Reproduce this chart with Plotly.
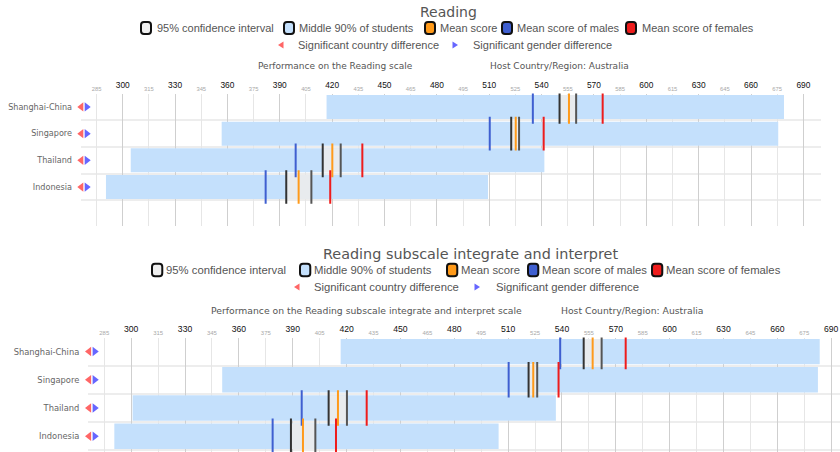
import plotly.graph_objects as go

W, H = 840, 452


def px(x):
    return x / W


def py(y):
    return 1 - y / H


countries = ["Shanghai-China", "Singapore", "Thailand", "Indonesia"]

# Reading
read_p5 = [416.8, 356.7, 304.6, 290.4]
read_p95 = [678.9, 675.6, 541.6, 509.3]
read_ci_lo = [550.3, 522.6, 414.6, 393.7]
read_ci_hi = [559.8, 527.1, 424.9, 408.1]
read_mean = [555.7, 525.2, 420.1, 400.8]
read_male = [535.0, 510.3, 399.1, 381.9]
read_female = [575.0, 541.2, 437.3, 418.9]

# Reading subscale integrate and interpret
ii_p5 = [416.7, 350.7, 300.8, 290.6]
ii_p95 = [683.6, 682.6, 536.6, 504.7]
ii_ci_lo = [552.1, 521.4, 410.0, 389.0]
ii_ci_hi = [562.1, 526.2, 420.2, 402.6]
ii_mean = [557.1, 524.0, 415.2, 395.7]
ii_male = [539.0, 510.3, 395.0, 378.8]
ii_female = [575.5, 538.1, 431.2, 414.1]

major_ticks = [300, 330, 360, 390, 420, 450, 480, 510, 540, 570, 600, 630, 660, 690]
minor_ticks = [285, 315, 345, 375, 405, 435, 465, 495, 525, 555, 585, 615, 645, 675]

sig_country = [True, True, True, True]
sig_gender = [True, True, True, True]

legend_items = ["95% confidence interval", "Middle 90% of students", "Mean score",
                "Mean score of males", "Mean score of females"]
legend_sig = ["Significant country difference", "Significant gender difference"]

C_BAND = "#c4e0fc"
C_CI = "#e8ebee"
C_CILO = "#333333"
C_CIHI = "#555555"
C_MEAN = "#ff9a1a"
C_MALE = "#3f5fd0"
C_FEMALE = "#ee1c1c"
C_TRI_R = "#ff6666"
C_TRI_B = "#6666ff"
legend_fills = ["#f0f0f0", C_BAND, C_MEAN, C_MALE, C_FEMALE]

FONT = "DejaVu Sans, Verdana, sans-serif"
LFONT = "Liberation Sans, Arial, sans-serif"

charts = [
    dict(title="Reading",
         axis_title="Performance on the Reading scale",
         p5=read_p5, p95=read_p95, lo=read_ci_lo, hi=read_ci_hi, mean=read_mean,
         male=read_male, female=read_female,
         xd=(81, 821), yd=(93.6, 226), xr=(276.1, 700.1), pitch=26.7, s=1.0,
         ax="", ov="2", ya="",
         title_y=12, title_x=448, leg1_y=28, leg2_y=45,
         leg_icons=[141, 284, 425, 502, 626], leg_texts=[155, 297, 438, 515, 640],
         leg2=[(281, 296), (455, 471)],
         at_y=66, at_x=256, host_x=488,
         tri=(81.3, 86.7), tsize=8.0),
    dict(title="Reading subscale integrate and interpret",
         axis_title="Performance on the Reading subscale integrate and interpret scale",
         p5=ii_p5, p95=ii_p95, lo=ii_ci_lo, hi=ii_ci_hi, mean=ii_mean,
         male=ii_male, female=ii_female,
         xd=(88.3, 840), yd=(337.5, 452), xr=(276.1, 694.9), pitch=28.2, s=1.028,
         ax="3", ov="4", ya="2",
         title_y=254, title_x=470.5, leg1_y=270, leg2_y=287,
         leg_icons=[152, 300, 447, 528, 652], leg_texts=[164, 312, 459, 540, 664],
         leg2=[(297, 312), (477, 494)],
         at_y=310, at_x=209, host_x=559,
         tri=(89.1, 94.65), tsize=8.2),
]

fig = go.Figure()
shapes = []
annotations = []

for c in charts:
    xref = "x" + c["ax"]
    ovref = "x" + c["ov"]
    yref = "y" + c["ya"]
    rows = list(range(len(countries)))
    ppu = (c["xd"][1] - c["xd"][0]) / (c["xr"][1] - c["xr"][0])
    bar_px = 0.9 * c["pitch"]

    # middle 90% band
    fig.add_trace(go.Bar(
        y=rows, base=c["p5"], x=[b - a for a, b in zip(c["p5"], c["p95"])],
        orientation="h", width=0.9, marker=dict(color=C_BAND, line=dict(width=0)),
        xaxis=xref, yaxis=yref, showlegend=False, hoverinfo="skip"))
    # confidence interval band
    fig.add_trace(go.Bar(
        y=rows, base=c["lo"], x=[b - a for a, b in zip(c["lo"], c["hi"])],
        orientation="h", width=0.9, marker=dict(color=C_CI, line=dict(width=0)),
        xaxis=xref, yaxis=yref, showlegend=False, hoverinfo="skip"))

    def ticks(vals, color):
        fig.add_trace(go.Scatter(
            x=vals, y=rows, mode="markers",
            marker=dict(symbol="line-ns", size=bar_px, line=dict(width=2, color=color)),
            xaxis=xref, yaxis=yref, showlegend=False, hoverinfo="skip"))

    ticks(c["lo"], C_CILO)
    ticks(c["hi"], C_CIHI)
    ticks(c["male"], C_MALE)
    ticks(c["mean"], C_MEAN)
    ticks(c["female"], C_FEMALE)

    # significance markers (to the left of the plot, at fixed pixel offsets)
    tri_r = c["xr"][0] + (c["tri"][0] - c["xd"][0]) / ppu
    tri_b = c["xr"][0] + (c["tri"][1] - c["xd"][0]) / ppu
    fig.add_trace(go.Scatter(
        x=[tri_r if f else None for f in sig_country], y=rows, mode="markers",
        marker=dict(symbol="triangle-left", size=c["tsize"], color=C_TRI_R),
        cliponaxis=False, xaxis=ovref, yaxis=yref, showlegend=False, hoverinfo="skip"))
    fig.add_trace(go.Scatter(
        x=[tri_b if f else None for f in sig_gender], y=rows, mode="markers",
        marker=dict(symbol="triangle-right", size=c["tsize"], color=C_TRI_B),
        cliponaxis=False, xaxis=ovref, yaxis=yref, showlegend=False, hoverinfo="skip"))

    n_extra = (c["yd"][1] - c["yd"][0]) / c["pitch"]
    yrange = [-0.5 + n_extra, -0.5]
    xdom = [px(c["xd"][0]), px(c["xd"][1])]
    ydom = [py(c["yd"][1]), py(c["yd"][0])]

    fig.layout["xaxis" + c["ax"]] = dict(
        domain=xdom, range=list(c["xr"]), anchor=yref, side="top",
        tickmode="array", tickvals=major_ticks, ticktext=[str(t) for t in major_ticks],
        showgrid=True, gridcolor="#cfcfcf", gridwidth=1, zeroline=False,
        showline=False, ticks="", fixedrange=True,
        tickfont=dict(family=LFONT, size=8.4 * c["s"], color="#111"),
        ticklabelstandoff=3)
    fig.layout["xaxis" + c["ov"]] = dict(
        domain=xdom, range=list(c["xr"]), anchor=yref, side="top", overlaying=xref,
        tickmode="array", tickvals=minor_ticks, ticktext=[str(t) for t in minor_ticks],
        showgrid=True, gridcolor="#e6e6e6", gridwidth=1, zeroline=False,
        showline=False, ticks="", fixedrange=True,
        tickfont=dict(family=LFONT, size=5.8 * c["s"], color="#a8a8a8"),
        ticklabelstandoff=0)
    fig.layout["yaxis" + c["ya"]] = dict(
        domain=ydom, range=yrange, anchor=xref,
        tickmode="array", tickvals=rows, ticktext=countries,
        showgrid=False, zeroline=False, showline=False, ticks="", fixedrange=True,
        tickfont=dict(family=FONT, size=8.1 * c["s"], color="#666"),
        ticklabelstandoff=8,
        minor=dict(tickvals=[r + 0.5 for r in rows], showgrid=True,
                   gridcolor="#ededed", gridwidth=2, ticks=""))

    # titles
    annotations.append(dict(text=c["title"], x=px(c["title_x"]), y=py(c["title_y"]),
                            xref="paper", yref="paper", showarrow=False,
                            xanchor="center", yanchor="middle",
                            font=dict(family=FONT, size=14 * c["s"], color="#555")))
    annotations.append(dict(text=c["axis_title"], x=px(c["at_x"]), y=py(c["at_y"]),
                            xref="paper", yref="paper", showarrow=False,
                            xanchor="left", yanchor="middle",
                            font=dict(family=FONT, size=9 * c["s"], color="#555")))
    annotations.append(dict(text="Host Country/Region: Australia", x=px(c["host_x"]),
                            y=py(c["at_y"]), xref="paper", yref="paper", showarrow=False,
                            xanchor="left", yanchor="middle",
                            font=dict(family=FONT, size=9 * c["s"], color="#555")))

    # legend row 1: rounded icons
    iw, ih, rr = 10 * c["s"], 12 * c["s"], 3
    for lx, tx, fill, label in zip(c["leg_icons"], c["leg_texts"], legend_fills, legend_items):
        x0, x1 = lx, lx + iw
        y0, y1 = c["leg1_y"] - ih / 2, c["leg1_y"] + ih / 2
        path = (f"M{px(x0 + rr)},{py(y0)} L{px(x1 - rr)},{py(y0)} "
                f"Q{px(x1)},{py(y0)} {px(x1)},{py(y0 + rr)} L{px(x1)},{py(y1 - rr)} "
                f"Q{px(x1)},{py(y1)} {px(x1 - rr)},{py(y1)} L{px(x0 + rr)},{py(y1)} "
                f"Q{px(x0)},{py(y1)} {px(x0)},{py(y1 - rr)} L{px(x0)},{py(y0 + rr)} "
                f"Q{px(x0)},{py(y0)} {px(x0 + rr)},{py(y0)} Z")
        shapes.append(dict(type="path", path=path, xref="paper", yref="paper",
                           fillcolor=fill, line=dict(color="#111", width=2)))
        annotations.append(dict(text=label, x=px(tx), y=py(c["leg1_y"]),
                                xref="paper", yref="paper", showarrow=False,
                                xanchor="left", yanchor="middle",
                                font=dict(family=LFONT, size=11 * c["s"], color="#555")))
    # legend row 2: triangles
    for (cx, tx), label, col, d in zip(c["leg2"], legend_sig, [C_TRI_R, C_TRI_B], [-1, 1]):
        cy = c["leg2_y"]
        tip = cx + d * 3
        back = cx - d * 2.5
        path = (f"M{px(tip)},{py(cy)} L{px(back)},{py(cy - 3.5)} "
                f"L{px(back)},{py(cy + 3.5)} Z")
        shapes.append(dict(type="path", path=path, xref="paper", yref="paper",
                           fillcolor=col, line=dict(width=0)))
        annotations.append(dict(text=label, x=px(tx), y=py(cy),
                                xref="paper", yref="paper", showarrow=False,
                                xanchor="left", yanchor="middle",
                                font=dict(family=LFONT, size=11 * c["s"], color="#555")))

fig.update_layout(
    width=W, height=H, margin=dict(l=0, r=0, t=0, b=0),
    paper_bgcolor="white", plot_bgcolor="white",
    barmode="overlay", showlegend=False,
    shapes=shapes, annotations=annotations,
)

fig.write_html(
    "out.html",
    config={"displayModeBar": False},
    post_script="document.body.style.margin='0';document.body.style.overflow='hidden';",
)
